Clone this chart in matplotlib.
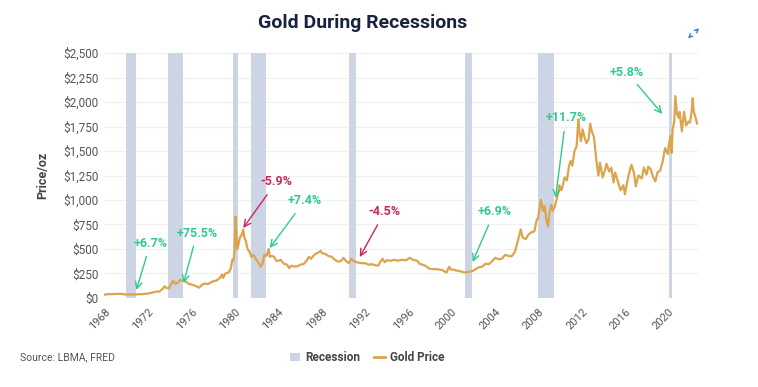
import matplotlib
matplotlib.use("Agg")
import matplotlib.pyplot as plt
from matplotlib.patches import Patch, FancyArrowPatch
from matplotlib.lines import Line2D

plt.rcParams['font.family'] = ['Roboto', 'DejaVu Sans']

# gold price, decimal year -> USD/oz
gold_year = [1968.0, 1968.3, 1968.6, 1969.0, 1969.3, 1969.7, 1970.0, 1970.5, 1971.0, 1971.5,
             1972.0, 1972.4, 1972.7, 1973.0, 1973.3, 1973.5, 1973.7, 1973.9, 1974.1, 1974.3,
             1974.5, 1974.7, 1974.95, 1975.2, 1975.5, 1975.7, 1975.9, 1976.2, 1976.5, 1976.7,
             1976.9, 1977.2, 1977.5, 1977.8, 1978.0, 1978.3, 1978.6, 1978.8, 1978.9, 1979.1,
             1979.4, 1979.6, 1979.75, 1979.85, 1979.95, 1980.05, 1980.12, 1980.2, 1980.3, 1980.45,
             1980.6, 1980.75, 1980.85, 1981.0, 1981.15, 1981.3, 1981.5, 1981.7, 1981.9, 1982.1,
             1982.35, 1982.5, 1982.7, 1982.9, 1983.1, 1983.2, 1983.4, 1983.6, 1983.8, 1984.0,
             1984.2, 1984.5, 1984.8, 1985.0, 1985.2, 1985.5, 1985.8, 1986.0, 1986.3, 1986.6,
             1986.8, 1987.0, 1987.3, 1987.6, 1987.9, 1988.0, 1988.3, 1988.6, 1988.9, 1989.2,
             1989.5, 1989.8, 1990.0, 1990.2, 1990.5, 1990.7, 1990.9, 1991.1, 1991.4, 1991.7,
             1992.0, 1992.3, 1992.6, 1992.9, 1993.2, 1993.4, 1993.6, 1993.8, 1994.0, 1994.4,
             1994.7, 1995.0, 1995.4, 1995.8, 1996.1, 1996.4, 1996.8, 1997.0, 1997.3, 1997.6,
             1997.9, 1998.2, 1998.5, 1998.8, 1999.1, 1999.5, 1999.75, 1999.9, 2000.1, 2000.4,
             2000.7, 2001.0, 2001.3, 2001.6, 2001.9, 2002.2, 2002.5, 2002.8, 2003.1, 2003.4,
             2003.7, 2004.0, 2004.3, 2004.6, 2004.9, 2005.2, 2005.5, 2005.8, 2006.0, 2006.35,
             2006.5, 2006.8, 2007.0, 2007.3, 2007.6, 2007.8, 2007.95, 2008.2, 2008.4, 2008.55,
             2008.7, 2008.85, 2009.0, 2009.15, 2009.3, 2009.5, 2009.75, 2009.9, 2010.1, 2010.4,
             2010.6, 2010.8, 2010.95, 2011.1, 2011.3, 2011.5, 2011.65, 2011.75, 2011.9, 2012.05,
             2012.2, 2012.4, 2012.6, 2012.75, 2012.9, 2013.1, 2013.3, 2013.5, 2013.65, 2013.9,
             2014.1, 2014.25, 2014.5, 2014.7, 2014.9, 2015.05, 2015.3, 2015.55, 2015.8, 2015.95,
             2016.1, 2016.3, 2016.55, 2016.8, 2016.95, 2017.2, 2017.5, 2017.7, 2017.95, 2018.1,
             2018.3, 2018.6, 2018.75, 2018.95, 2019.2, 2019.45, 2019.65, 2019.9, 2020.0, 2020.15,
             2020.25, 2020.35, 2020.5, 2020.6, 2020.75, 2020.9, 2021.0, 2021.2, 2021.4, 2021.6,
             2021.8, 2021.95, 2022.1, 2022.2, 2022.3, 2022.45, 2022.6]
gold_price = [35, 39, 39, 42, 43, 38, 35, 36, 38, 40,
              46, 56, 65, 65, 90, 120, 100, 100, 140, 175,
              145, 155, 185, 175, 165, 145, 140, 130, 115, 105,
              132, 148, 142, 160, 172, 178, 205, 240, 205, 250,
              260, 300, 390, 380, 480, 830, 660, 500, 540, 620,
              640, 700, 620, 580, 500, 480, 420, 440, 400, 370,
              320, 340, 440, 430, 500, 420, 430, 420, 380, 380,
              390, 350, 340, 305, 330, 320, 325, 340, 345, 380,
              420, 400, 440, 460, 480, 460, 450, 430, 420, 390,
              370, 380, 410, 380, 355, 400, 380, 370, 360, 355,
              355, 340, 345, 335, 330, 370, 400, 365, 385, 380,
              390, 380, 390, 385, 410, 390, 380, 350, 340, 325,
              300, 295, 295, 290, 285, 260, 320, 290, 290, 280,
              275, 265, 260, 270, 275, 295, 315, 320, 350, 345,
              375, 410, 395, 400, 440, 430, 425, 470, 550, 700,
              620, 600, 640, 670, 680, 790, 820, 1000, 890, 940,
              800, 730, 870, 950, 890, 940, 1050, 1150, 1100, 1230,
              1200, 1350, 1400, 1350, 1500, 1550, 1820, 1700, 1600, 1720,
              1650, 1580, 1620, 1780, 1700, 1640, 1420, 1250, 1380, 1230,
              1300, 1370, 1290, 1330, 1180, 1280, 1190, 1100, 1150, 1060,
              1150, 1260, 1360, 1270, 1140, 1250, 1220, 1330, 1260, 1340,
              1320, 1220, 1190, 1280, 1300, 1400, 1530, 1470, 1560, 1650,
              1480, 1720, 1800, 2060, 1880, 1840, 1900, 1700, 1900, 1760,
              1800, 1790, 1900, 2040, 1900, 1850, 1780]

# US recessions (NBER)
rec_start = [1969.92, 1973.83, 1979.8, 1981.5, 1990.5, 2001.17, 2007.92, 2020.05]
rec_end = [1970.83, 1975.17, 1980.3, 1982.83, 1991.17, 2001.83, 2009.42, 2020.25]

# annotations: label, text position, arrow tip, colour
ann_labels = ["+6.7%", "+75.5%", "-5.9%", "+7.4%", "-4.5%", "+6.9%", "+11.7%", "+5.8%"]
ann_text_x = [1972.2, 1976.5, 1983.8, 1986.4, 1993.8, 2003.9, 2010.5, 2016.1]
ann_text_y = [561, 663, 1184, 990, 878, 878, 1837, 2306]
ann_tip_x = [1970.9, 1975.25, 1980.75, 1983.2, 1991.5, 2001.9, 2009.55, 2019.4]
ann_tip_y = [82, 153, 714, 510, 418, 367, 1020, 1878]
ann_up = [True, True, False, True, False, True, True, True]

years_ticks = list(range(1968, 2021, 4))
price_ticks = list(range(0, 2501, 250))

green = "#2fcb8b"
red = "#cf2660"
gold = "#dca44c"
band = "#cdd4e3"

fig = plt.figure(figsize=(7.58, 3.87), dpi=100)
ax = fig.add_axes([0.137, 0.23, 0.784, 0.633])

for s, e in zip(rec_start, rec_end):
    ax.axvspan(s, e, color=band, lw=0, zorder=1)
ax.plot(gold_year, gold_price, color=gold, lw=1.6, zorder=3)

for lab, tx, ty, px, py, up in zip(ann_labels, ann_text_x, ann_text_y, ann_tip_x, ann_tip_y, ann_up):
    c = green if up else red
    ax.annotate(lab, xy=(px, py), xytext=(tx, ty), ha='center', va='center',
                fontsize=9, fontweight='semibold', color=c, zorder=5,
                arrowprops=dict(arrowstyle='->', color=c, lw=1.0,
                                shrinkA=3, shrinkB=0, mutation_scale=12))

ax.set_xlim(1967.9, 2022.7)
ax.set_ylim(0, 2500)
ax.set_xticks(years_ticks)
ax.set_xticklabels([str(y) for y in years_ticks], rotation=45, ha='right',
                   rotation_mode='anchor', fontsize=8, color='#555555')
ax.set_yticks(price_ticks)
ax.set_yticklabels(['${:,}'.format(p) for p in price_ticks], fontsize=8.5, color='#555555')
ax.tick_params(length=0, pad=4)
ax.tick_params(axis='x', pad=6)
ax.grid(axis='y', color='#eef0f4', lw=0.8, zorder=0)
ax.set_axisbelow(True)
for sp in ax.spines.values():
    sp.set_visible(False)
ax.set_ylabel("Price/oz", fontsize=9, fontweight='bold', color='#444444', labelpad=10)

fig.text(0.479, 0.94, "Gold During Recessions", ha='center', va='center',
         fontsize=14, fontweight='bold', color='#17233f')

# expand icon (no installed font has the glyph, so two small arrows)
icon_c = '#3b78c9'
for p0, p1 in [((0.917, 0.917), (0.925, 0.932)), ((0.913, 0.911), (0.905, 0.896))]:
    fig.add_artist(FancyArrowPatch(p0, p1, transform=fig.transFigure,
                                   arrowstyle='->', mutation_scale=6,
                                   color=icon_c, lw=1.0))

fig.text(0.026, 0.077, "Source: LBMA, FRED", ha='left', va='center',
         fontsize=7.5, color='#555555')

handles = [Patch(facecolor=band, edgecolor='none'),
           Line2D([0], [0], color=gold, lw=2)]
leg = fig.legend(handles, ["Recession", "Gold Price"], loc='center',
                 bbox_to_anchor=(0.484, 0.075), ncol=2, frameon=False,
                 fontsize=8.5, handlelength=0.9, handleheight=0.7,
                 handletextpad=0.4, columnspacing=1.2)
for t in leg.get_texts():
    t.set_color('#444444')
    t.set_fontweight('semibold')

fig.savefig("out.png", dpi=100)
